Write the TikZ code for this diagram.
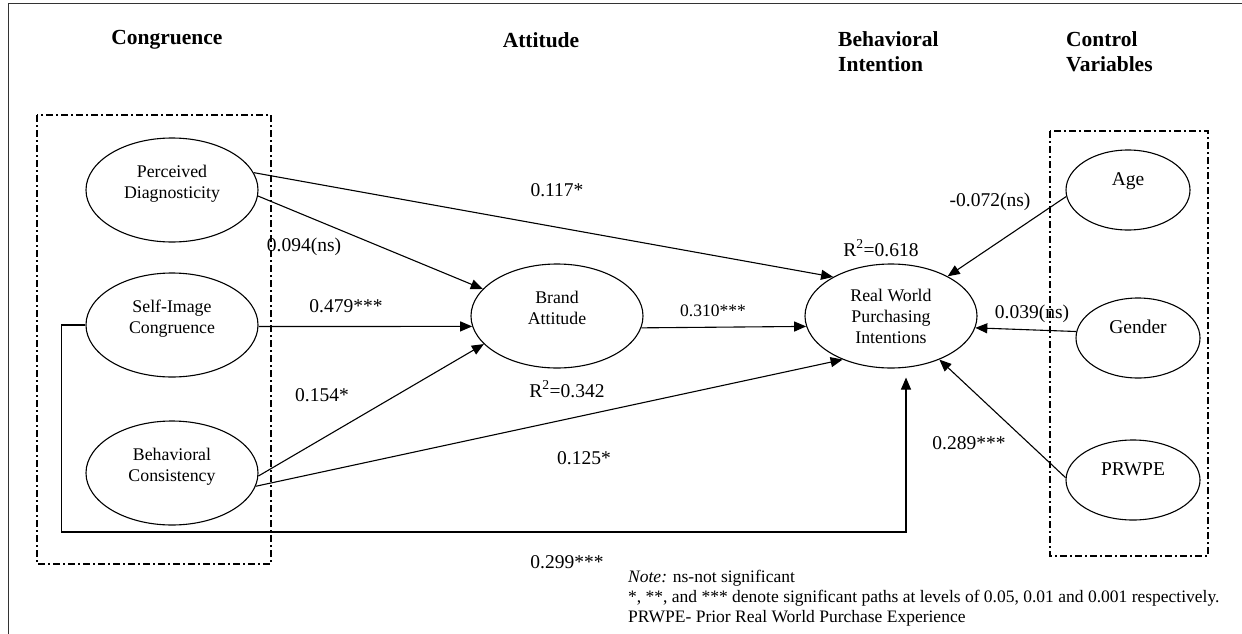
\documentclass[tikz,border=0pt]{standalone}
\usepackage{fontspec}
\setmainfont{Liberation Serif}
\usetikzlibrary{shapes.geometric,arrows.meta}
\tikzset{
	factor/.style={draw, ellipse, line width=1.1pt, minimum width=172pt, minimum height=104pt, inner sep=0pt, align=center, text depth=16pt, font=\fontsize{17.8}{21}\selectfont},
	control/.style={factor, minimum width=124pt, minimum height=80pt, text depth=22pt, font=\fontsize{19.5}{22}\selectfont},
	link/.style={line width=1.1pt, -{Triangle[length=12pt,width=10pt]}},
	coef/.style={inner sep=0pt, font=\fontsize{19.5}{22}\selectfont},
	head/.style={inner sep=0pt, align=left, font=\fontsize{21.5}{25}\selectfont\bfseries},
	group/.style={line width=1.1pt, dash pattern=on 7pt off 3pt on 2pt off 3pt},
	note/.style={inner sep=0pt, align=left, font=\fontsize{17.5}{20}\selectfont}
}
\begin{document}
\begin{tikzpicture}[x=1pt,y=-1pt]
				\useasboundingbox (0,0) rectangle (1242,634);
				\draw[line width=1.8pt, black!80] (8.5,634) |- (1242,3.5);
				
				\draw[group] (37,115) rectangle (271,564);
				\draw[group] (1050,131) rectangle (1208,556);
				
				\node[head] (hcong) at (167,40) {Congruence};
				\node[head] (hatt) at (541,40) {Attitude};
				\node[head, anchor=north west] (hbi) at (838,31) {Behavioral\\Intention};
				\node[head, anchor=north west] (hcv) at (1066,31) {Control\\Variables};
				
				\node[factor] (pd) at (172,190) {Perceived\\Diagnosticity};
				\node[factor] (sic) at (172,325) {Self-Image\\Congruence};
				\node[factor] (bc) at (172,473) {Behavioral\\Consistency};
				\node[factor] (ba) at (557,316) {Brand\\Attitude};
				\node[factor, text depth={}] (rw) at (891,316) {Real World\\Purchasing\\Intentions};
				\node[control] (age) at (1128,190) {Age};
				\node[control] (gen) at (1138,338) {Gender};
				\node[control, minimum width=134pt] (prw) at (1133,480) {PRWPE};
				
				\draw[link] (pd.12) -- (rw.146);
				\draw[link] (pd.-4) -- (ba.160);
				\draw[link] (sic.-1) -- (ba.187);
				\draw[link] (bc.-2) -- (ba.201);
				\draw[link] (bc.-9) -- (rw.222);
				\draw[link] (ba.-8) -- (rw.187);
				\draw[link, shorten >=9pt] (sic.west) -| ++(-24,207) -| ([xshift=15pt]rw.south);
				\draw[link] (age.186) -- (rw.35);
				\draw[link] (gen.174) -- (rw.-8);
				\draw[link] (prw.178) -- (rw.-42);
				
				\node[coef] (c117) at (557,190) {0.117*};
				\node[coef] (c094) at (304,247) {0.094(ns)};
				\node[coef] (c479) at (346,306) {0.479***};
				\node[coef] (c154) at (322,395) {0.154*};
				\node[coef, font=\fontsize{17.5}{20}\selectfont] (c310) at (713,311) {0.310***};
				\node[coef] (r342) at (567,389) {R\textsuperscript{2}=0.342};
				\node[coef] (c125) at (584,458) {0.125*};
				\node[coef] (r618) at (881,248) {R\textsuperscript{2}=0.618};
				\node[coef] (c072) at (990,202) {-0.072(ns)};
				\node[coef] (c039) at (1032,314) {0.039(ns)};
				\node[coef] (c289) at (969,443) {0.289***};
				\node[coef] (c299) at (567,562) {0.299***};
				
				\node[note, anchor=north west] (note) at (628,570) {\textit{Note:} ns-not significant\\{}*, **, and *** denote significant paths at levels of 0.05, 0.01 and 0.001 respectively.\\PRWPE- Prior Real World Purchase Experience};
			\end{tikzpicture}
\end{document}
